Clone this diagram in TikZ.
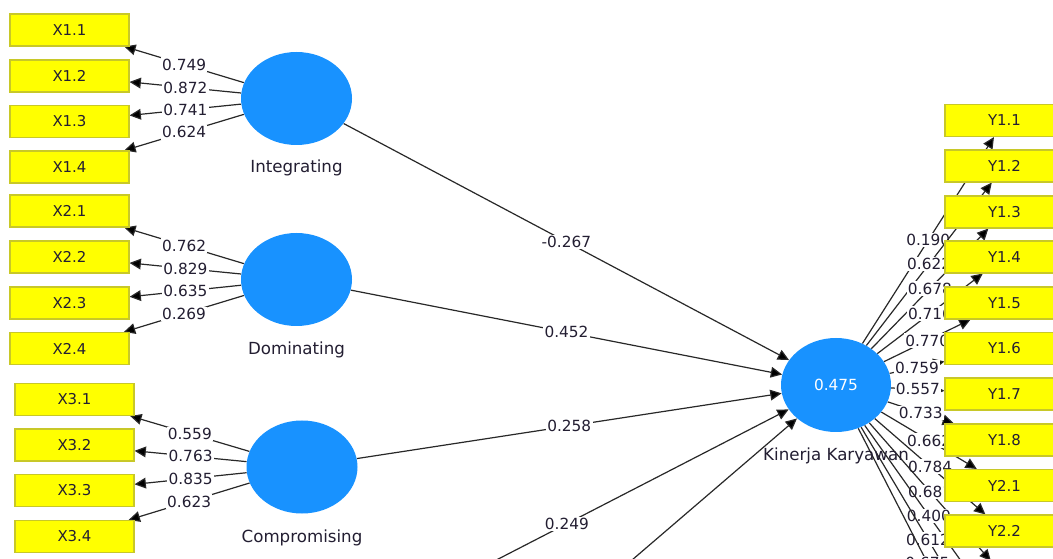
\documentclass[tikz,border=0pt]{standalone}
\usepackage{fontspec}
\setmainfont{DejaVu Sans}
\usetikzlibrary{arrows.meta,shapes.geometric}
\pgfdeclarelayer{paper}
\pgfdeclarelayer{edges}
\pgfsetlayers{paper,edges,main}
\definecolor{lv}{RGB}{24,146,255}
\definecolor{mv}{RGB}{255,255,0}
\definecolor{mvline}{RGB}{200,200,40}
\definecolor{ink}{RGB}{35,30,50}
\definecolor{wirecol}{RGB}{40,40,40}
\tikzset{
  ind/.style={draw=mvline, fill=mv, line width=0.8pt, minimum width=89.25pt,
    minimum height=24pt, inner sep=0pt, font=\fontsize{11.2}{13}\selectfont, text=ink},
  lat/.style={ellipse, fill=lv, minimum width=83.25pt, minimum height=69.75pt, inner sep=0pt},
  latname/.style={font=\fontsize{12.5}{15}\selectfont, text=ink},
  wire/.style={draw=wirecol, line width=0.9pt,
    -{Triangle[length=8.5pt,width=8pt,fill=black]}},
  coef/.style={fill=white, inner sep=1pt, font=\fontsize{11.5}{13}\selectfont, text=ink},
}
\begin{document}
\begin{tikzpicture}[x=0.75pt,y=-0.75pt]
\useasboundingbox (0,0) rectangle (1053,559);
\begin{pgfonlayer}{paper}
\fill[white] (0,0) rectangle (1053,559);
\end{pgfonlayer}
\clip (0,0) rectangle (1053,559);

% latent variables
\node[lat] (INT) at (296.5,98.5) {};
\node[latname] (INTn) at (296.5,168) {Integrating};
\node[lat] (DOM) at (296.5,279.5) {};
\node[latname] (DOMn) at (296.5,350) {Dominating};
\node[lat] (COM) at (302,467) {};
\node[latname] (COMn) at (302,537.5) {Compromising};
\node[lat, minimum width=82.5pt, minimum height=70.5pt, text=white,
      font=\fontsize{11.5}{13}\selectfont] (KK) at (836,385) {0.475};
\node[latname] (KKn) at (836,456) {Kinerja Karyawan};

% indicators of the exogenous constructs
\node[ind] (X11) at (69.5,30)    {X1.1};
\node[ind] (X12) at (69.5,76)    {X1.2};
\node[ind] (X13) at (69.5,121.5) {X1.3};
\node[ind] (X14) at (69.5,167)   {X1.4};
\node[ind] (X21) at (69.5,211)   {X2.1};
\node[ind] (X22) at (69.5,257)   {X2.2};
\node[ind] (X23) at (69.5,303)   {X2.3};
\node[ind] (X24) at (69.5,348.5) {X2.4};
\node[ind] (X31) at (74.5,399.5) {X3.1};
\node[ind] (X32) at (74.5,445)   {X3.2};
\node[ind] (X33) at (74.5,490.5) {X3.3};
\node[ind] (X34) at (74.5,536.5) {X3.4};

% indicators of Kinerja Karyawan
\node[ind] (Y11) at (1004.5,120.5) {Y1.1};
\node[ind] (Y12) at (1004.5,166)   {Y1.2};
\node[ind] (Y13) at (1004.5,212)   {Y1.3};
\node[ind] (Y14) at (1004.5,257)   {Y1.4};
\node[ind] (Y15) at (1004.5,303)   {Y1.5};
\node[ind] (Y16) at (1004.5,348.5) {Y1.6};
\node[ind] (Y17) at (1004.5,394)   {Y1.7};
\node[ind] (Y18) at (1004.5,440)   {Y1.8};
\node[ind] (Y21) at (1004.5,485.5) {Y2.1};
\node[ind] (Y22) at (1004.5,531)   {Y2.2};

% ends of paths leaving the drawing area
\coordinate (Y23) at (990.9,561);
\coordinate (Y24) at (993,606);
\coordinate (Y25) at (995,652);
\coordinate (Y26) at (996.6,697.5);
\coordinate (S4) at (345,638);
\coordinate (S5) at (350,802);

\begin{pgfonlayer}{edges}
\clip (0,0) rectangle (1053,559);
% outer loadings
\draw[wire] (INT) -- node[coef]{0.749} (X11);
\draw[wire] (INT) -- node[coef]{0.872} (X12);
\draw[wire] (INT) -- node[coef]{0.741} (X13);
\draw[wire] (INT) -- node[coef]{0.624} (X14);
\draw[wire] (DOM) -- node[coef]{0.762} (X21);
\draw[wire] (DOM) -- node[coef]{0.829} (X22);
\draw[wire] (DOM) -- node[coef]{0.635} (X23);
\draw[wire] (DOM) -- node[coef]{0.269} (X24);
\draw[wire] (COM) -- node[coef]{0.559} (X31);
\draw[wire] (COM) -- node[coef]{0.763} (X32);
\draw[wire] (COM) -- node[coef]{0.835} (X33);
\draw[wire] (COM) -- node[coef]{0.623} (X34);

% path coefficients
\draw[wire] (INT) -- node[coef]{-0.267} (KK);
\draw[wire] (DOM) -- node[coef]{0.452} (KK);
\draw[wire] (COM) -- node[coef]{0.258} (KK);
\draw[wire] (S4) -- node[coef]{0.249} (KK);
\draw[wire] (S5) -- (KK);

% loadings of Kinerja Karyawan
\draw[wire] (KK) -- node[coef]{0.190} (Y11);
\draw[wire] (KK) -- node[coef]{0.622} (Y12);
\draw[wire] (KK) -- node[coef]{0.678} (Y13);
\draw[wire] (KK) -- node[coef]{0.716} (Y14);
\draw[wire] (KK) -- node[coef]{0.770} (Y15);
\draw[wire] (KK) -- node[coef]{0.759} (Y16);
\draw[wire] (KK) -- node[coef]{0.557} (Y17);
\draw[wire] (KK) -- node[coef]{0.733} (Y18);
\draw[wire] (KK) -- node[coef]{0.662} (Y21);
\draw[wire] (KK) -- node[coef]{0.784} (Y22);
\draw[wire] (KK) -- node[coef]{0.681} (Y23);
\draw[wire] (KK) -- node[coef]{0.400} (Y24);
\draw[wire] (KK) -- node[coef]{0.612} (Y25);
\draw[wire] (KK) -- node[coef]{0.675} (Y26);
\end{pgfonlayer}
\end{tikzpicture}
\end{document}
